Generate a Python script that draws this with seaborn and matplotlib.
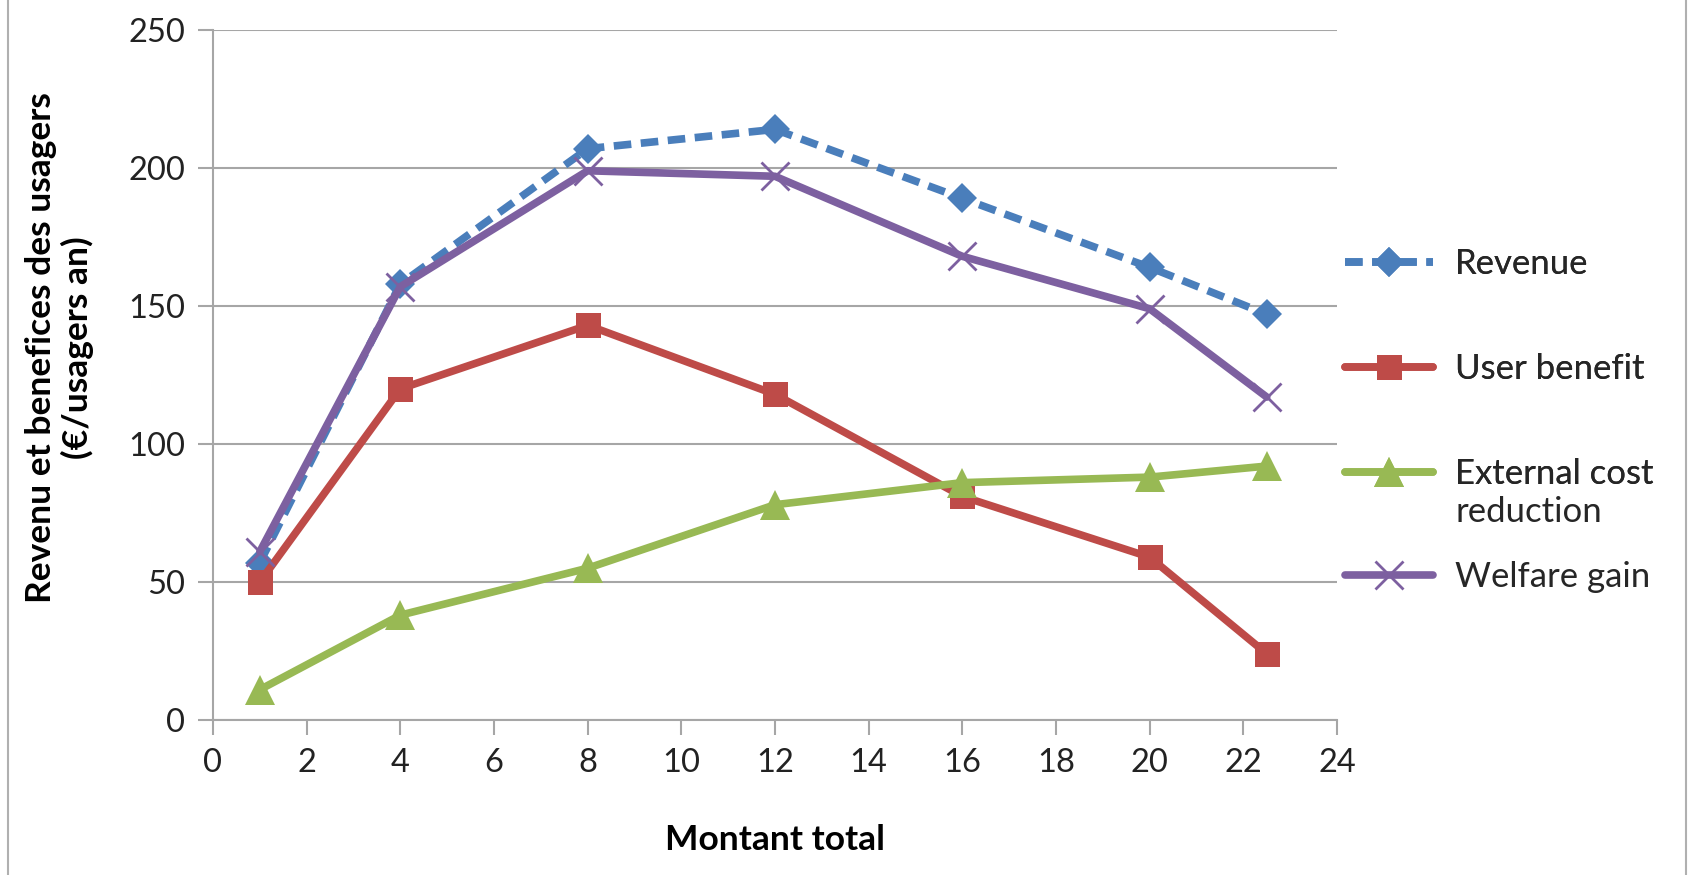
import matplotlib
matplotlib.use("Agg")
import matplotlib.pyplot as plt
from matplotlib.lines import Line2D
import seaborn as sns
import pandas as pd

# Montant total (x) and the four series
montant = [1, 4, 8, 12, 16, 20, 22.5]
revenue = [57, 158, 207, 214, 189, 164, 147]
user_benefit = [50, 120, 143, 118, 81, 59, 24]
external_cost = [11, 38, 55, 78, 86, 88, 92]
welfare_gain = [61, 157, 199, 197, 168, 149, 117]

series_names = ["Revenue", "User benefit", "External cost\nreduction", "Welfare gain"]
colors = ["#4A7EBB", "#BE4B48", "#98B954", "#7D60A0"]

sns.set_theme(style="white")
plt.rcParams["font.family"] = ["Lato", "DejaVu Sans"]

fig = plt.figure(figsize=(16.9, 8.75), dpi=100)
ax = fig.add_axes([213 / 1690, 1 - 720 / 875, (1337 - 213) / 1690, (720 - 30) / 875])

lw = 5.5
styles = [
    dict(marker="D", markersize=15, linestyle=(0, (2.3, 1.25))),
    dict(marker="s", markersize=18, linestyle="-"),
    dict(marker="^", markersize=21, linestyle="-"),
    dict(marker="x", markersize=20, linestyle="-", markeredgewidth=2.0),
]
values = [revenue, user_benefit, external_cost, welfare_gain]

handles = []
for name, vals, col, st in zip(series_names, values, colors, styles):
    df = pd.DataFrame({"x": montant, "y": vals})
    sns.lineplot(data=df, x="x", y="y", ax=ax, color=col, linewidth=lw,
                 marker=st["marker"], markersize=st["markersize"],
                 markeredgecolor=col, markerfacecolor=col,
                 markeredgewidth=st.get("markeredgewidth", 0),
                 linestyle=st["linestyle"], legend=False, zorder=3)
    handles.append(Line2D([], [], color=col, linewidth=lw, marker=st["marker"],
                          markersize=st["markersize"], markeredgecolor=col,
                          markerfacecolor=col,
                          markeredgewidth=st.get("markeredgewidth", 0),
                          linestyle=st["linestyle"]))

grid_col = "#A6A6A6"
ax.set_xlim(0, 24)
ax.set_ylim(0, 250)
ax.set_xticks(range(0, 25, 2))
ax.set_yticks(range(0, 251, 50))
ax.yaxis.grid(True, color=grid_col, linewidth=1.5, zorder=0)
ax.xaxis.grid(False)
for side in ["top", "right"]:
    ax.spines[side].set_visible(False)
for side in ["left", "bottom"]:
    ax.spines[side].set_color(grid_col)
    ax.spines[side].set_linewidth(1.5)
ax.tick_params(axis="both", which="major", direction="out", length=11,
               width=1.5, color=grid_col, labelsize=23.5, labelcolor="#222222",
               pad=9, left=True, bottom=True)

ax.set_xlabel("Montant total", fontsize=25.5, fontweight="bold", color="black")
ax.xaxis.set_label_coords(0.5, -0.15)
ax.set_ylabel("Revenu et benefices des usagers\n(€/usagers an)", fontsize=25.5,
              fontweight="bold", color="black", linespacing=1.15)
ax.yaxis.set_label_coords(-0.106, 0.54)

# Legend: first three entries, then the wrapped line and the last entry
leg_kw = dict(frameon=False, fontsize=25, handlelength=2.54, handletextpad=0.63,
              borderpad=0, borderaxespad=0, numpoints=1, loc="upper left")
leg1 = fig.legend(handles[:3], ["Revenue", "User benefit", "External cost"],
                  bbox_to_anchor=(1345 / 1690, 1 - 248 / 875),
                  labelspacing=2.1, **leg_kw)
blank = Line2D([], [], alpha=0)
leg2 = fig.legend([blank, handles[3]], ["reduction", "Welfare gain"],
                  bbox_to_anchor=(1345 / 1690, 1 - 496 / 875),
                  labelspacing=0.95, **leg_kw)
fig.add_artist(leg1)

# thin frame lines at the figure sides
for xf in (8 / 1690, 1686 / 1690):
    fig.add_artist(Line2D([xf, xf], [0, 1], color="#B0B0B0", linewidth=1.5,
                          transform=fig.transFigure))

fig.savefig("out.png", dpi=100, facecolor="white")
